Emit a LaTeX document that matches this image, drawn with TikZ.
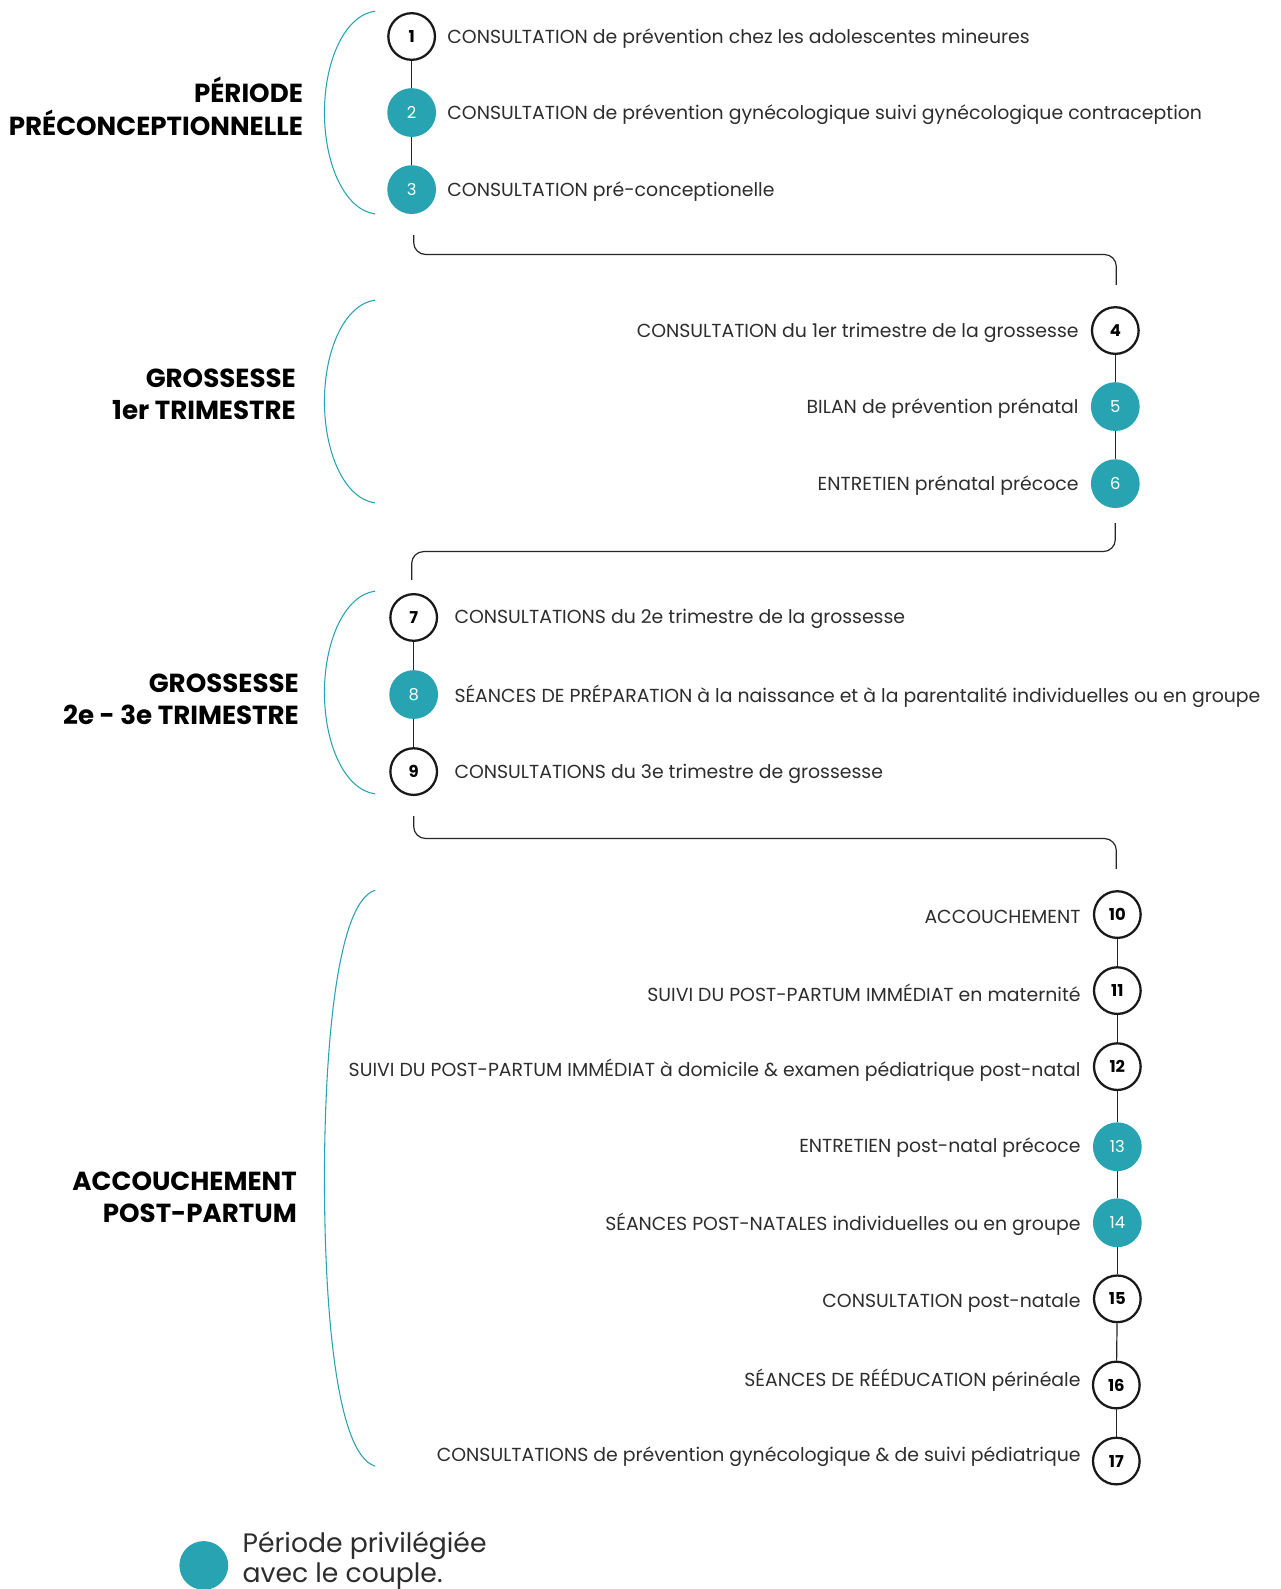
\documentclass[tikz,border=0pt]{standalone}
\usepackage{fontspec}
\setmainfont{Poppins}
\definecolor{tealc}{RGB}{40,163,178}
\definecolor{txt}{RGB}{45,45,45}
\begin{document}
\begin{tikzpicture}[x=0.7607pt,y=-0.7607pt,
  open/.style={circle,draw=black!90,line width=1.7pt,fill=white,minimum size=35pt,inner sep=0pt,text=black,font=\fontsize{12.3}{14}\selectfont\bfseries},
  full/.style={circle,fill=tealc,minimum size=36.6pt,inner sep=0pt,text=white,font=\fontsize{12.3}{14}\selectfont},
  lbl/.style={text=txt,font=\fontsize{14.15}{16}\selectfont,inner sep=0pt,yshift=-1.4pt},
  head/.style={text=black,font=\fontsize{19.6}{24.3}\selectfont\bfseries,align=right,inner sep=0pt,yshift=0.8pt},
  link/.style={draw=black!85,line width=0.9pt},
  sect/.style={draw=black!85,line width=0.9pt,rounded corners=9pt},
  brack/.style={draw=tealc,line width=0.8pt}]
\useasboundingbox (0,0) rectangle (1263.3,1567.2);
% ---------- Section 1
\node[open] (c1) at (406,36) {1};
\node[full] (c2) at (406,111) {2};
\node[full] (c3) at (406,187) {3};
\draw[link] (c1) -- (c2); \draw[link] (c2) -- (c3);
\node[lbl,anchor=west] (t1) at (441,36) {CONSULTATION de prévention chez les adolescentes mineures};
\node[lbl,anchor=west] (t2) at (441,111) {CONSULTATION de prévention gynécologique suivi gynécologique contraception};
\node[lbl,anchor=west] (t3) at (441,187) {CONSULTATION pré-conceptionelle};
\draw[brack] (370,11) .. controls (340,15) and (320,60) .. (320,111) .. controls (320,162) and (340,207) .. (370,211);
\node[head,anchor=east] (h1) at (299,106) {PÉRIODE\\PRÉCONCEPTIONNELLE};
% connector 1
\coordinate (k1a) at (408,232); \coordinate (k1m) at (750,251); \coordinate (k1b) at (1101,281);
\draw[sect] (k1a) |- (k1m) -| (k1b);
% ---------- Section 2
\node[open] (c4) at (1100,326) {4};
\node[full] (c5) at (1100,401) {5};
\node[full] (c6) at (1100,477) {6};
\draw[link] (c4) -- (c5); \draw[link] (c5) -- (c6);
\node[lbl,anchor=east] (t4) at (1064,326) {CONSULTATION du 1er trimestre de la grossesse};
\node[lbl,anchor=east] (t5) at (1064,401) {BILAN de prévention prénatal};
\node[lbl,anchor=east] (t6) at (1064,477) {ENTRETIEN prénatal précoce};
\draw[brack] (370,296) .. controls (340,300) and (320,345) .. (320,396) .. controls (320,447) and (340,492) .. (370,496);
\node[head,anchor=east] (h2) at (292,390) {GROSSESSE\\1er TRIMESTRE};
% connector 2
\coordinate (k2a) at (1100,516); \coordinate (k2m) at (750,544); \coordinate (k2b) at (406,572);
\draw[sect] (k2a) |- (k2m) -| (k2b);
% ---------- Section 3
\node[open] (c7) at (408,609) {7};
\node[full] (c8) at (408,685) {8};
\node[open] (c9) at (408,761) {9};
\draw[link] (c7) -- (c8); \draw[link] (c8) -- (c9);
\node[lbl,anchor=west] (t7) at (448,609) {CONSULTATIONS du 2e trimestre de la grossesse};
\node[lbl,anchor=west] (t8) at (448,685) {SÉANCES DE PRÉPARATION à la naissance et à la parentalité individuelles ou en groupe};
\node[lbl,anchor=west] (t9) at (448,761) {CONSULTATIONS du 3e trimestre de grossesse};
\draw[brack] (370,583) .. controls (340,587) and (320,632) .. (320,683) .. controls (320,734) and (340,779) .. (370,783);
\node[head,anchor=east] (h3) at (295,691) {GROSSESSE\\2e - 3e TRIMESTRE};
% connector 3
\coordinate (k3a) at (408,805); \coordinate (k3m) at (750,827); \coordinate (k3b) at (1101,857);
\draw[sect] (k3a) |- (k3m) -| (k3b);
% ---------- Section 4
\node[open] (c10) at (1102,902) {10};
\node[open] (c11) at (1102,977) {11};
\node[open] (c12) at (1102,1052) {12};
\node[full] (c13) at (1102,1131) {13};
\node[full] (c14) at (1102,1206) {14};
\node[open] (c15) at (1102,1281) {15};
\node[open] (c16) at (1101,1366) {16};
\node[open] (c17) at (1101,1441) {17};
\draw[link] (c10) -- (c11); \draw[link] (c11) -- (c12); \draw[link] (c12) -- (c13);
\draw[link] (c13) -- (c14); \draw[link] (c14) -- (c15); \draw[link] (c15) -- (c16);
\draw[link] (c16) -- (c17);
\node[lbl,anchor=east] (t10) at (1066,902) {ACCOUCHEMENT};
\node[lbl,anchor=east] (t11) at (1066,977) {SUIVI DU POST-PARTUM IMMÉDIAT en maternité};
\node[lbl,anchor=east] (t12) at (1066,1054) {SUIVI DU POST-PARTUM IMMÉDIAT à domicile \& examen pédiatrique post-natal};
\node[lbl,anchor=east] (t13) at (1066,1130) {ENTRETIEN post-natal précoce};
\node[lbl,anchor=east] (t14) at (1066,1206) {SÉANCES POST-NATALES individuelles ou en groupe};
\node[lbl,anchor=east] (t15) at (1066,1283) {CONSULTATION post-natale};
\node[lbl,anchor=east] (t16) at (1066,1359) {SÉANCES DE RÉÉDUCATION périnéale};
\node[lbl,anchor=east] (t17) at (1066,1435) {CONSULTATIONS de prévention gynécologique \& de suivi pédiatrique};
\draw[brack] (370,878) .. controls (330,890) and (320,1050) .. (320,1162) .. controls (320,1280) and (330,1434) .. (370,1446);
\node[head,anchor=east] (h4) at (293,1182) {ACCOUCHEMENT\\POST-PARTUM};
% ---------- Legend
\node[circle,fill=tealc,minimum size=36.6pt,inner sep=0pt] (leg) at (201,1544) {};
\node[text=txt,font=\fontsize{20}{23}\selectfont,align=left,anchor=west,inner sep=0pt] (legt) at (239,1539) {Période privilégiée\\avec le couple.};
\end{tikzpicture}
\end{document}
